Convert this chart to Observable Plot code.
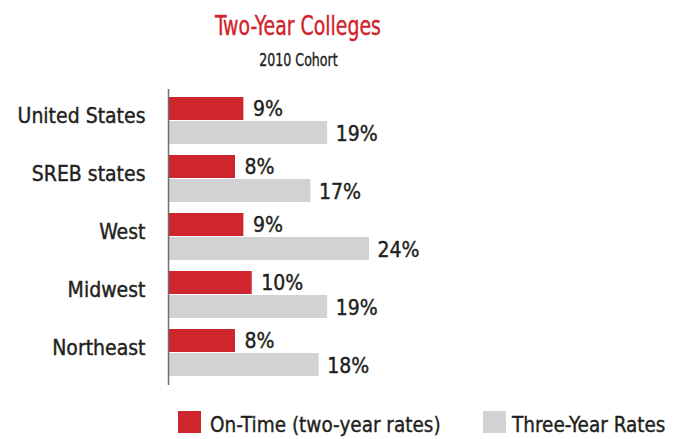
<!DOCTYPE html>
<html>
<head>
<meta charset="utf-8">
<script src="https://cdn.jsdelivr.net/npm/d3@7"></script>
<script src="https://cdn.jsdelivr.net/npm/@observablehq/plot@0.6"></script>
<style>
  html, body { margin: 0; padding: 0; background: #fff; }
  #wrap { position: relative; width: 677px; height: 439px; overflow: hidden;
          font-family: "DejaVu Sans Condensed", "DejaVu Sans", sans-serif; color: #231f20; }
  .abs { position: absolute; white-space: nowrap; }
  #title { left: 0; width: 596px; text-align: center; top: 18px; font-size: 21px; line-height: 21px; color: #d0232b;
           transform: scaleY(1.3); transform-origin: 50% 84.6%; -webkit-text-stroke: 0.3px #d0232b; }
  #subtitle { left: 0; width: 597px; text-align: center; top: 54px; font-size: 14px; line-height: 14px;
              transform: scaleY(1.25); transform-origin: 50% 84.6%; -webkit-text-stroke: 0.3px #231f20; }
  #chart { position: absolute; left: 0; top: 80px; }
  #chart svg text { stroke: #231f20; stroke-width: 0.4px; }
  .sw { position: absolute; width: 23px; height: 22px; }
  .lt { position: absolute; font-size: 20.5px; line-height: 20.5px; -webkit-text-stroke: 0.35px #231f20; }
</style>
</head>
<body>
<div id="wrap">
  <div id="title" class="abs">Two-Year Colleges</div>
  <div id="subtitle" class="abs">2010 Cohort</div>
  <div id="chart"></div>
</div>
<script>
const categories = ["United States", "SREB states", "West", "Midwest", "Northeast"];
const onTimeRates = [9, 8, 9, 10, 8];
const threeYearRates = [19, 17, 24, 19, 18];
const seriesNames = ["On-Time (two-year rates)", "Three-Year Rates"];
const seriesColors = ["#cf262e", "#d1d2d4"];

const onTime = categories.map((c, i) => ({category: c, value: onTimeRates[i]}));
const threeYear = categories.map((c, i) => ({category: c, value: threeYearRates[i]}));

const font = '"DejaVu Sans Condensed", "DejaVu Sans", sans-serif';

const chart = Plot.plot({
  width: 677,
  height: 320,
  marginTop: 9,
  marginBottom: 15,
  marginLeft: 168,
  marginRight: 174,
  style: {fontFamily: font, color: "#231f20", background: "transparent"},
  x: {domain: [0, 40], axis: null},
  y: {domain: categories, paddingInner: 0.1864, paddingOuter: 0.1017, label: null},
  marks: [
    Plot.barX(onTime, {x: "value", y: "category", fill: seriesColors[0], insetBottom: 24}),
    Plot.barX(threeYear, {x: "value", y: "category", fill: seriesColors[1], insetTop: 24}),
    Plot.text(onTime, {x: "value", y: "category", text: d => d.value + "%", textAnchor: "start", dx: 9, dy: -12, fontSize: 21, fill: "#231f20"}),
    Plot.text(threeYear, {x: "value", y: "category", text: d => d.value + "%", textAnchor: "start", dx: 8, dy: 13, fontSize: 21, fill: "#231f20"}),
    Plot.axisY({tickSize: 0, tickPadding: 23, fontSize: 21, dy: -5, label: null}),
    Plot.ruleX([0], {stroke: "#6d6e71", strokeWidth: 1.5})
  ]
});
document.getElementById("chart").appendChild(chart);

// legend
const wrap = document.getElementById("wrap");
const swatchX = [178, 483];
const textX = [210, 512];
seriesNames.forEach((name, i) => {
  const sw = document.createElement("div");
  sw.className = "sw";
  sw.style.left = swatchX[i] + "px";
  sw.style.top = "411px";
  sw.style.background = seriesColors[i];
  wrap.appendChild(sw);
  const t = document.createElement("div");
  t.className = "lt";
  t.style.left = textX[i] + "px";
  t.style.top = "414.5px";
  t.textContent = name;
  wrap.appendChild(t);
});
</script>
</body>
</html>
